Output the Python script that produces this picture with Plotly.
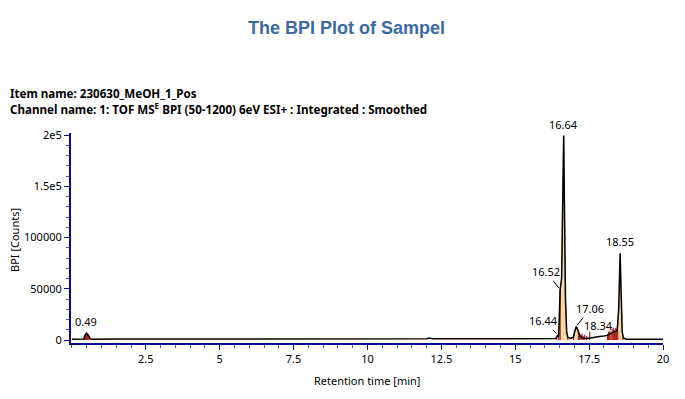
import plotly.graph_objects as go

# ---- data ----
rt = [0.00, 0.30, 0.40, 0.43, 0.46, 0.49, 0.52, 0.55, 0.58, 0.62, 0.70, 1.50, 3.00, 4.50,
      6.00, 7.50, 9.00, 10.50, 12.00, 12.10, 12.20, 13.50, 15.00, 16.00, 16.36,
      16.40, 16.44, 16.47, 16.50, 16.52, 16.57, 16.61, 16.64, 16.67, 16.70, 16.74,
      16.78, 16.88, 16.97, 17.02, 17.06, 17.10, 17.14, 17.20, 17.28, 17.40, 17.55,
      17.70, 17.85, 18.00, 18.10, 18.20, 18.28, 18.34, 18.40, 18.45, 18.50, 18.53,
      18.55, 18.58, 18.62, 18.66, 18.75, 19.20, 20.00]
bpi = [700, 800, 900, 3500, 5500, 6500, 6000, 5000, 3500, 1200, 800, 900, 900, 1000,
       1000, 1000, 1100, 1100, 1200, 2000, 1200, 1200, 1200, 1300, 1500,
       2500, 5000, 3000, 35000, 49000, 60000, 150000, 199500, 120000, 40000, 8000,
       2500, 1500, 3000, 9000, 13000, 11000, 7000, 3500, 2000, 1500, 2000,
       3000, 3500, 4000, 4500, 6000, 7000, 8000, 8000, 9000, 30000, 65000,
       84500, 50000, 8000, 2000, 800, 700, 700]

# integrated peak windows (start, end) in minutes
peak_start = [0.43, 16.40, 16.47, 16.52, 16.97, 18.10, 18.45]
peak_end = [0.58, 16.47, 16.52, 16.78, 17.20, 18.45, 18.66]

# peak boundary / integration drop lines
drop_rt = [0.43, 0.45, 0.47, 0.49, 0.51, 0.53, 0.55, 0.58,
           16.40, 16.47, 16.52, 16.78, 16.97,
           17.14, 17.18, 17.22, 17.26, 17.30, 17.35, 17.42, 17.52,
           18.12, 18.16, 18.20, 18.24, 18.28, 18.32, 18.36, 18.40, 18.43, 18.47, 18.64]
drop_h = [3500, 5000, 6000, 6500, 6200, 5500, 5000, 3500,
          2500, 3000, 49000, 2500, 3000,
          8000, 6500, 5000, 6000, 4000, 5000, 4000, 8000,
          5000, 8000, 9000, 7000, 11000, 12000, 10000, 12000, 11000, 9000, 2000]

# peak labels
label_rt = [0.49, 16.44, 16.52, 16.64, 17.06, 18.34, 18.55]
label_h = [6500, 5000, 49000, 199500, 13000, 8000, 84500]
label_txt = ["0.49", "16.44", "16.52", "16.64", "17.06", "18.34", "18.55"]

x_ticks = [2.5, 5, 7.5, 10, 12.5, 15, 17.5, 20]
y_ticks = [0, 50000, 100000, 150000, 200000]
y_ticktext = ["0", "50000", "100000", "1.5e5", "2e5"]

TITLE = "The BPI Plot of Sampel"
ITEM = "Item name: 230630_MeOH_1_Pos"
CHANNEL = "Channel name: 1: TOF MS<sup>E</sup> BPI (50-1200) 6eV ESI+ : Integrated : Smoothed"

# ---- figure ----
AXIS = "#0a0a8c"
FONT = "Noto Sans"
fig = go.Figure()

for s, e in zip(peak_start, peak_end):
    xs = [t for t in rt if s <= t <= e]
    ys = [v for t, v in zip(rt, bpi) if s <= t <= e]
    fig.add_trace(go.Scatter(x=xs, y=ys, mode="lines", fill="tozeroy",
                             fillcolor="#F5DAA2", line=dict(width=0.8, color="#E3A35A"),
                             hoverinfo="skip", showlegend=False))

dx, dy = [], []
for t, h in zip(drop_rt, drop_h):
    dx += [t, t, None]
    dy += [0, h, None]
fig.add_trace(go.Scatter(x=dx, y=dy, mode="lines", line=dict(color="#B01E1E", width=1.2),
                         hoverinfo="skip", showlegend=False))

fig.add_trace(go.Scatter(x=rt, y=bpi, mode="lines", line=dict(color="black", width=1.5),
                         showlegend=False))

# label offsets (pixels): (ax, ay, arrow?)
label_style = {
    "0.49": (0, 0, False), "16.64": (0, 0, False), "18.55": (0, 0, False),
    "16.52": (-14, -18, True), "16.44": (-14, -14, True),
    "17.06": (14, -18, True), "18.34": (-15, -6, True),
}
for t, h, txt in zip(label_rt, label_h, label_txt):
    ax, ay, arrow = label_style[txt]
    if arrow:
        fig.add_annotation(x=t, y=h, text=txt, showarrow=True, arrowhead=0,
                           arrowwidth=1, arrowcolor="black", ax=ax, ay=ay,
                           standoff=2, font=dict(family=FONT, size=11, color="black"))
    else:
        fig.add_annotation(x=t, y=h, text=txt, showarrow=False, yanchor="bottom",
                           yshift=2, font=dict(family=FONT, size=11, color="black"))

# plot area in figure px: left 63, right 655, top 125, bottom 335 (page body has 8px margin)
PW, PH = 592, 210
fig.add_annotation(text=ITEM, xref="paper", yref="paper", x=-63 / PW, y=(335 - 85) / PH,
                   xanchor="left", yanchor="middle", showarrow=False,
                   font=dict(family=FONT, size=11.6, color="black", weight="bold"))
fig.add_annotation(text=CHANNEL, xref="paper", yref="paper", x=-63 / PW, y=(335 - 100) / PH,
                   xanchor="left", yanchor="middle", showarrow=False,
                   font=dict(family=FONT, size=11.6, color="black", weight="bold"))
# axis titles
fig.add_annotation(text="Retention time [min]", xref="paper", yref="paper",
                   x=0.5, y=-(372 - 335) / PH, xanchor="center", yanchor="middle",
                   showarrow=False, font=dict(family=FONT, size=11, color="black"))
fig.add_annotation(text="BPI [Counts]", xref="paper", yref="paper", textangle=-90,
                   x=-(63 - 6) / PW, y=(335 - 232) / PH, xanchor="center", yanchor="middle",
                   showarrow=False, font=dict(family=FONT, size=11, color="black"))

fig.update_layout(
    width=677, height=383,
    margin=dict(l=63, r=22, t=125, b=48, autoexpand=False),
    paper_bgcolor="white", plot_bgcolor="white",
    title=dict(text=f"<b>{TITLE}</b>", x=0.5, xref="container", xanchor="center",
               y=1 - 20 / 383, yanchor="middle",
               font=dict(family="Liberation Sans", size=18, color="#3C68A4")),
    font=dict(family=FONT, size=11, color="black"),
)
fig.update_xaxes(range=[-0.03, 20], showgrid=False, zeroline=False, automargin=False,
                 showline=True, linecolor=AXIS, linewidth=2,
                 ticks="outside", ticklen=5, tickcolor=AXIS, tickwidth=1,
                 tickvals=x_ticks, ticktext=[f"{v:g}" for v in x_ticks],
                 minor=dict(dtick=0.5, tick0=0, ticklen=3, tickcolor="#5a5ab0", ticks="outside"))
fig.update_yaxes(range=[-2930, 201950], showgrid=False, zeroline=False, automargin=False,
                 showline=True, linecolor=AXIS, linewidth=2,
                 ticks="outside", ticklen=5, tickcolor=AXIS, tickwidth=1,
                 tickvals=y_ticks, ticktext=y_ticktext,
                 minor=dict(dtick=10000, tick0=0, ticklen=3, tickcolor="#5a5ab0", ticks="outside"))

fig.write_html("out.html")
